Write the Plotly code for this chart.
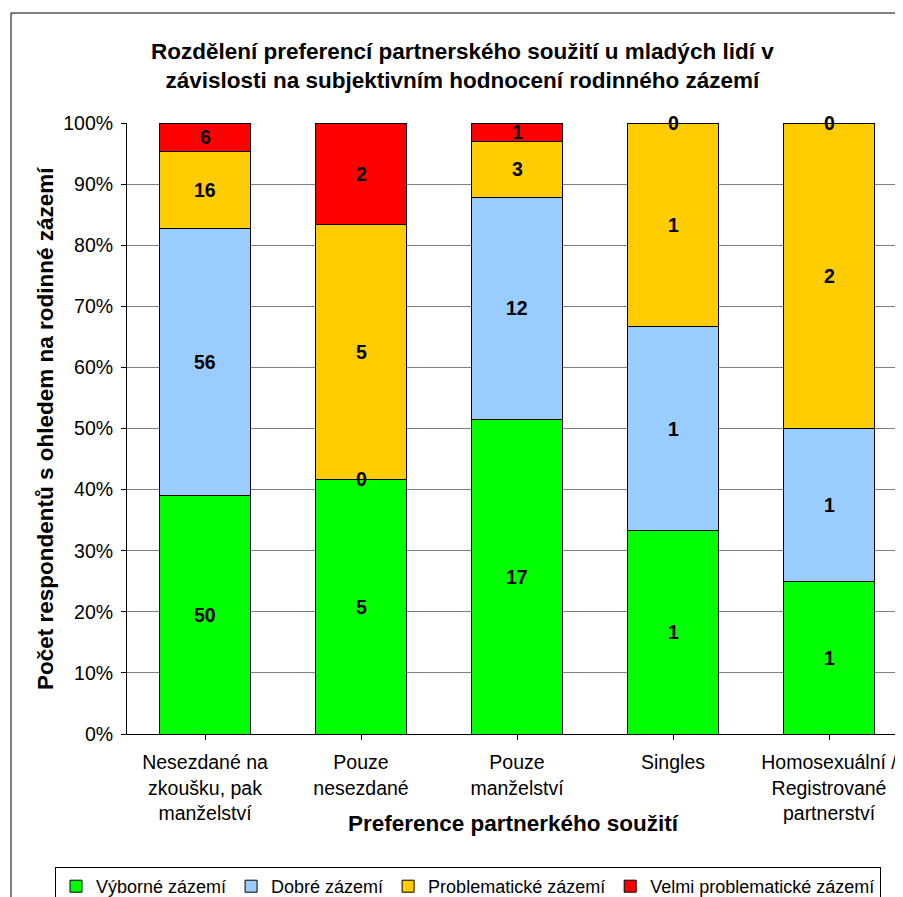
import plotly.graph_objects as go

categories = ["Nesezdané na<br>zkoušku, pak<br>manželství", "Pouze<br>nesezdané",
              "Pouze<br>manželství", "Singles", "Homosexuální /<br>Registrované<br>partnerství"]
series_names = ["Výborné zázemí", "Dobré zázemí", "Problematické zázemí", "Velmi problematické zázemí"]
vyborne = [50, 5, 17, 1, 1]
dobre = [56, 0, 12, 1, 1]
problematicke = [16, 5, 3, 1, 2]
velmi = [6, 2, 1, 0, 0]
colors = ["#00FF00", "#99CCFF", "#FFCC00", "#FF0000"]

series = [vyborne, dobre, problematicke, velmi]
xs = list(range(len(categories)))

FONT = "Liberation Sans, Arial, sans-serif"
OFF = 8  # browser body margin
W, H = 903 - OFF, 897 - OFF
L, R, T, B = 127 - OFF, 903 - OFF, 123 - OFF, 734 - OFF  # plot area pixels (figure coords)

def px(x):  # screen pixel -> paper
    return (x - OFF - L) / (R - L)

def py(y):
    return (B - (y - OFF)) / (B - T)

fig = go.Figure()
for name, vals, col in zip(series_names, series, colors):
    fig.add_trace(go.Bar(x=xs, y=vals, name=name, marker=dict(color=col, line=dict(color="black", width=1)),
                         width=0.58, hoverinfo="skip"))

annotations = []
totals = [sum(s[i] for s in series) for i in xs]
for i in xs:
    cum = 0
    for s in series:
        v = s[i]
        mid = (cum + v / 2) / totals[i] * 100
        annotations.append(dict(x=i, y=mid, xref="x", yref="y", text=f"<b>{v}</b>", showarrow=False,
                                xanchor="center", yanchor="middle",
                                font=dict(family=FONT, size=19.5, color="black")))
        cum += v

annotations.append(dict(x=px(462), y=py(66), xref="paper", yref="paper", xanchor="center", yanchor="middle",
                        text="<b>Rozdělení preferencí partnerského soužití u mladých lidí v<br>závislosti na subjektivním hodnocení rodinného zázemí</b>",
                        showarrow=False, font=dict(family=FONT, size=22.5, color="black"), align="center"))
annotations.append(dict(x=px(45), y=py(429), xref="paper", yref="paper", textangle=-90,
                        xanchor="center", yanchor="middle",
                        text="<b>Počet respondentů s ohledem na rodinné zázemí</b>",
                        showarrow=False, font=dict(family=FONT, size=22.5, color="black")))
annotations.append(dict(x=px(513), y=py(823), xref="paper", yref="paper", xanchor="center", yanchor="middle",
                        text="<b>Preference partnerkého soužití</b>",
                        showarrow=False, font=dict(family=FONT, size=22.5, color="black")))

shapes = [
    dict(type="line", xref="paper", yref="paper", x0=px(11), x1=px(11), y0=py(13), y1=py(910),
         line=dict(color="black", width=1)),
    dict(type="line", xref="paper", yref="paper", x0=px(11), x1=px(910), y0=py(13), y1=py(13),
         line=dict(color="black", width=1)),
]

fig.update_layout(
    width=W, height=H, barmode="stack", barnorm="percent",
    margin=dict(l=L, r=W - R, t=T, b=H - B, autoexpand=False),
    paper_bgcolor="white", plot_bgcolor="white",
    font=dict(family=FONT, size=19.5, color="black"),
    annotations=annotations, shapes=shapes,
    legend=dict(orientation="h", x=px(55), y=py(867), xanchor="left", yanchor="top",
                bordercolor="black", borderwidth=1, font=dict(family=FONT, size=18),
                itemwidth=30, tracegroupgap=0, traceorder="normal"),
    showlegend=True,
)
fig.update_xaxes(range=[-0.5, -0.5 + (R - L) / 156], tickvals=xs, ticktext=categories,
                 tickson="boundaries", ticks="outside", ticklen=5, tickcolor="black",
                 ticklabelstandoff=6,
                 showline=True, linecolor="black", linewidth=1, showgrid=False,
                 tickfont=dict(family=FONT, size=19.5), fixedrange=True)
fig.update_yaxes(range=[0, 100], dtick=10, ticksuffix="%", ticks="outside", ticklen=5, tickcolor="black",
                 ticklabelstandoff=4,
                 showline=True, linecolor="black", linewidth=1, showgrid=True, gridcolor="#808080",
                 gridwidth=1, zeroline=False, tickfont=dict(family=FONT, size=19.5), fixedrange=True)

fig.write_html("out.html")
